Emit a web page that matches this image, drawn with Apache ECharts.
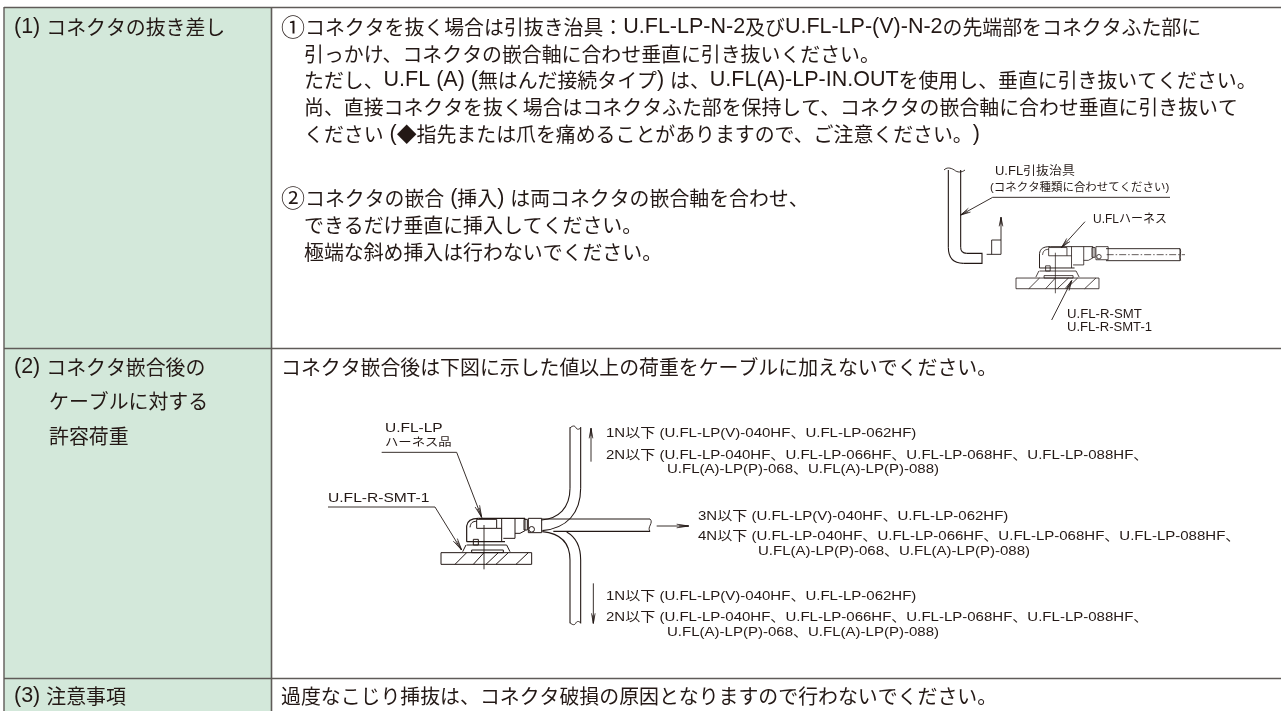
<!DOCTYPE html>
<html><head><meta charset="utf-8">
<style>html,body{margin:0;padding:0;background:#fff}#c{width:1281px;height:711px}</style>
<script src="https://cdn.jsdelivr.net/npm/echarts@6/dist/echarts.min.js"></script>
</head><body><div id="c"></div>
<script>
var rowLabels = [
  ["(1) コネクタの抜き差し"],
  ["(2) コネクタ嵌合後の","ケーブルに対する","許容荷重"],
  ["(3) 注意事項"]
];
var row1Lines = [
  "①コネクタを抜く場合は引抜き治具：U.FL-LP-N-2及びU.FL-LP-(V)-N-2の先端部をコネクタふた部に",
  "引っかけ、コネクタの嵌合軸に合わせ垂直に引き抜いください。",
  "ただし、U.FL (A) (無はんだ接続タイプ) は、U.FL(A)-LP-IN.OUTを使用し、垂直に引き抜いてください。",
  "尚、直接コネクタを抜く場合はコネクタふた部を保持して、コネクタの嵌合軸に合わせ垂直に引き抜いて",
  "ください (◆指先または爪を痛めることがありますので、ご注意ください。)"
];
var row1Lines2 = [
  "②コネクタの嵌合 (挿入) は両コネクタの嵌合軸を合わせ、",
  "できるだけ垂直に挿入してください。",
  "極端な斜め挿入は行わないでください。"
];
var row2Line = "コネクタ嵌合後は下図に示した値以上の荷重をケーブルに加えないでください。";
var row3Line = "過度なこじり挿抜は、コネクタ破損の原因となりますので行わないでください。";
var jigNotes = ["U.FL引抜治具","(コネクタ種類に合わせてください)","U.FLハーネス","U.FL-R-SMT","U.FL-R-SMT-1"];
var harnessNotes = ["U.FL-LP","ハーネス品","U.FL-R-SMT-1"];
var loadUp = ["1N以下 (U.FL-LP(V)-040HF、U.FL-LP-062HF)","2N以下 (U.FL-LP-040HF、U.FL-LP-066HF、U.FL-LP-068HF、U.FL-LP-088HF、","U.FL(A)-LP(P)-068、U.FL(A)-LP(P)-088)"];
var loadSide = ["3N以下 (U.FL-LP(V)-040HF、U.FL-LP-062HF)","4N以下 (U.FL-LP-040HF、U.FL-LP-066HF、U.FL-LP-068HF、U.FL-LP-088HF、","U.FL(A)-LP(P)-068、U.FL(A)-LP(P)-088)"];
var loadDown = ["1N以下 (U.FL-LP(V)-040HF、U.FL-LP-062HF)","2N以下 (U.FL-LP-040HF、U.FL-LP-066HF、U.FL-LP-068HF、U.FL-LP-088HF、","U.FL(A)-LP(P)-068、U.FL(A)-LP(P)-088)"];

var INK = '#231815', RULE = '#5f5b58', GREEN = '#d3e8da';
var JP = '"Noto Sans CJK JP"', LAT = '"Liberation Sans"', SMALL = '"Liberation Sans","Noto Sans CJK JP"';
var els = [];
function txt(s, x, y, size, family, sx) {
  els.push({type:'text', silent:true, z:5, x:x, y:y, scaleX:sx||1, style:{text:s, x:0, y:0, fill:INK, font:size+'px '+family, align:'left', verticalAlign:'middle'}});
}
var RICH = {
  j:{font:'19.9px '+JP, fill:INK},
  l:{font:'21.5px '+LAT, fill:INK},
  c:{font:'24px '+JP, fill:INK}
};
function body(s, x, y) {
  var parts = s.match(/[\x20-\x7e]+|[①②]|[^\x20-\x7e①②]+/g) || [];
  var t = parts.map(function(p){
    var k = /^[\x20-\x7e]/.test(p) ? 'l' : (/^[①②]/.test(p) ? 'c' : 'j');
    return '{'+k+'|'+p+'}';
  }).join('');
  els.push({type:'text', silent:true, z:5, x:x, y:y, style:{text:t, rich:RICH, x:0, y:0, fill:INK, font:'19.9px '+JP, align:'left', verticalAlign:'middle'}});
}
function line(pts, w, color, z) {
  els.push({type:'polyline', silent:true, z:z||4, shape:{points:pts}, style:{stroke:color||INK, lineWidth:w||1, fill:null}});
}
function curve(a, c1, c2, b, w) {
  els.push({type:'bezierCurve', silent:true, z:4, shape:{x1:a[0],y1:a[1],cpx1:c1[0],cpy1:c1[1],cpx2:c2[0],cpy2:c2[1],x2:b[0],y2:b[1]}, style:{stroke:INK, lineWidth:w||1, fill:null}});
}
function T(ox, oy, s) { return function(p){ return [ox+p[0]*s, oy+p[1]*s]; }; }
function head(tip, from, len, spread) {
  var dx=from[0]-tip[0], dy=from[1]-tip[1], d=Math.sqrt(dx*dx+dy*dy); dx/=d; dy/=d;
  var nx=-dy, ny=dx;
  line([[tip[0]+dx*len+nx*spread,tip[1]+dy*len+ny*spread],tip,[tip[0]+dx*len-nx*spread,tip[1]+dy*len-ny*spread]],.8);
  line([[tip[0]+dx*len*.8+nx*spread*.5,tip[1]+dy*len*.8+ny*spread*.5],tip,[tip[0]+dx*len*.8-nx*spread*.5,tip[1]+dy*len*.8-ny*spread*.5]],.7);
}

/* table */
els.push({type:'rect', silent:true, z:0, shape:{x:4,y:7,width:267,height:704}, style:{fill:GREEN}});
[[4,7,1281,7],[4,348,1281,348],[4,678,1281,678]].forEach(function(a){
  line([[a[0],a[1]+.5],[a[2],a[3]+.5]],1.6,RULE,3);
});
line([[4,7],[4,711]],1.4,RULE,3);
line([[271.5,7],[271.5,711]],1.6,RULE,3);

/* row text */
body(rowLabels[0][0],14,27);
body(rowLabels[1][0],14,367);
body(rowLabels[1][1],49,401);
body(rowLabels[1][2],49,436);
body(rowLabels[2][0],14,696);
var ry=[27,54,80,107,134];
row1Lines.forEach(function(s,i){ body(s,i===0?281:304,ry[i]); });
var r2y=[198,225,252];
row1Lines2.forEach(function(s,i){ body(s,i===0?281:304,r2y[i]); });
body(row2Line,281,367);
body(row3Line,281,696);

/* pull jig diagram */
var z2=T(920,160,1/3);
function p2(a){return a.map(z2);}
line(p2([[85,30],[85,262]]),1.1);
line(p2([[122,30],[122,262]]),1.1);
curve(z2([85,262]),z2([85,295]),z2([100,310]),z2([130,310]),1.1);
curve(z2([122,262]),z2([122,275]),z2([128,280]),z2([140,280]),1.1);
line(p2([[130,310],[186,310],[186,280],[140,280]]),1.1);
curve(z2([72,30]),z2([80,22]),z2([90,22]),z2([103,30]),.9);
curve(z2([103,30]),z2([112,38]),z2([125,38]),z2([135,30]),.9);
line(p2([[750,112],[218,112],[122,165]]),.9);
head(z2([122,165]),z2([218,112]),10,2.2);
line(p2([[200,283],[243,283],[243,240],[215,240],[215,283]]),.9);
line(p2([[243,240],[243,172]]),.9);
head(z2([243,172]),z2([243,240]),9,1.8);
line(p2([[495,185],[425,262]]),.9);
head(z2([425,262]),z2([495,185]),10,2.2);
line(p2([[395,480],[455,362]]),.9);
head(z2([455,362]),z2([395,480]),10,2.2);
/* rod of the harness in the jig diagram */
line(p2([[558,266],[780,266],[780,302],[558,302]]),.9);
curve(z2([780,266]),z2([786,275]),z2([776,292]),z2([782,302]),.8);
els.push({type:'line',silent:true,z:4,shape:{x1:z2([560,284])[0],y1:z2([560,284])[1],x2:z2([795,284])[0],y2:z2([795,284])[1]},style:{stroke:INK,lineWidth:.7,lineDash:[7,2,1.5,2]}});

/* connector drawn in local units, reused at two sizes */
function connector(f, w) {
  function P(a){return a.map(f);}
  function box(x0,y0,x1,y1){line(P([[x0,y0],[x1,y0],[x1,y1],[x0,y1],[x0,y0]]),w);}
  line(P([[380,395],[380,348]]),w*1.2);
  curve(f([380,348]),f([382,332]),f([392,325]),f([415,325]),w*1.2);
  curve(f([390,352]),f([392,338]),f([398,334]),f([410,334]),w);
  line(P([[415,325],[555,325]]),w*1.1);
  box(410,328,470,355);
  line(P([[470,355],[485,355]]),w);
  line(P([[485,325],[485,395]]),w);
  line(P([[525,325],[525,385],[490,385]]),w);
  line(P([[555,325],[555,362],[540,370],[525,370]]),w);
  box(552,328,562,360);
  box(565,325,605,368);
  els.push({type:'circle',silent:true,z:4,shape:{cx:f([575,358])[0],cy:f([575,358])[1],r:7*(w*.4)},style:{stroke:INK,fill:'#fff',lineWidth:w}});
  line(P([[380,395],[495,395]]),w*1.2);
  line(P([[380,405],[500,405]]),w);
  line(P([[378,405],[368,425]]),w);
  line(P([[500,405],[510,425]]),w);
  box(400,388,415,405);
  box(395,420,490,428);
  line(P([[432,345],[432,478]]),w*.9);
  box(303,428,575,463);
  [[345,463,380,428],[400,463,432,428],[438,463,475,428],[468,463,505,428],[528,463,565,428]].forEach(function(h){
    line(P([[h[0],h[1]],[h[2],h[3]]]),w);
  });
}
connector(T(923.6,147.5,0.305),.8);

/* harness diagram */
var z3=T(340,410,1/3), z4=T(600,410,1/3);
connector(z3,1);
function p3(a){return a.map(z3);}
curve(z3([605,330]),z3([655,325]),z3([690,295]),z3([690,235]),1.1);
line(p3([[690,235],[690,52]]),1.1);
curve(z3([607,362]),z3([680,355]),z3([722,310]),z3([722,235]),1.1);
line(p3([[722,235],[722,52]]),1.1);
curve(z3([690,54]),z3([698,46]),z3([705,46]),z3([708,54]),.9);
curve(z3([708,54]),z3([712,60]),z3([720,58]),z3([722,52]),.9);
line([z3([605,327]),z4([150,327])],1.1);
line([z3([640,364]),z4([150,364])],1.1);
curve(z4([150,327]),z4([162,338]),z4([140,352]),z4([150,364]),.9);
curve(z3([607,365]),z3([660,370]),z3([690,395]),z3([690,450]),1.1);
line(p3([[690,450],[690,640]]),1.1);
curve(z3([680,366]),z3([705,380]),z3([722,405]),z3([722,450]),1.1);
line(p3([[722,450],[722,640]]),1.1);
curve(z3([690,638]),z3([698,646]),z3([705,646]),z3([708,638]),.9);
curve(z3([708,638]),z3([712,632]),z3([720,634]),z3([722,640]),.9);
line(p3([[753,155],[753,55]]),.9);
head(z3([753,55]),z3([753,155]),10,1.8);
line(p3([[760,520],[760,640]]),.9);
head(z3([760,640]),z3([760,520]),10,1.8);
line([z4([170,348]),z4([266,348])],.9);
head(z4([266,348]),z4([170,348]),12,1.8);
line([[328,507],[435,507],[461.5,550]],.9);
head(z3([365,420]),z3([285,292]),12,2.4);
line(p3([[125,127],[350,127],[425,322]]),.9);
head(z3([425,322]),z3([350,127]),12,2.4);

/* diagram labels */
txt(jigNotes[0],995,172,12,SMALL,1.08);
txt(jigNotes[1],990,188,11,SMALL,1.04);
txt(jigNotes[2],1093,220,12,SMALL);
txt(jigNotes[3],1067,315,12,SMALL,1.1);
txt(jigNotes[4],1067,328,12,SMALL,1.09);
txt(harnessNotes[0],385,428,13,SMALL,1.19);
txt(harnessNotes[1],385,443,11.5,SMALL,1.16);
txt(harnessNotes[2],328,498,13,SMALL,1.2);
function block(lines,x,x2,ys){ txt(lines[0],x,ys[0],13,SMALL,1.155); txt(lines[1],x,ys[1],13,SMALL,1.155); txt(lines[2],x2,ys[2],13,SMALL,1.155); }
block(loadUp,606,667,[433,455,469]);
block(loadSide,698,758,[516,536,551]);
block(loadDown,606,667,[596,617,632]);

var chart = echarts.init(document.getElementById('c'),null,{renderer:'canvas'});
chart.setOption({animation:false, backgroundColor:'#fff', graphic:{elements:els}});
</script></body></html>
